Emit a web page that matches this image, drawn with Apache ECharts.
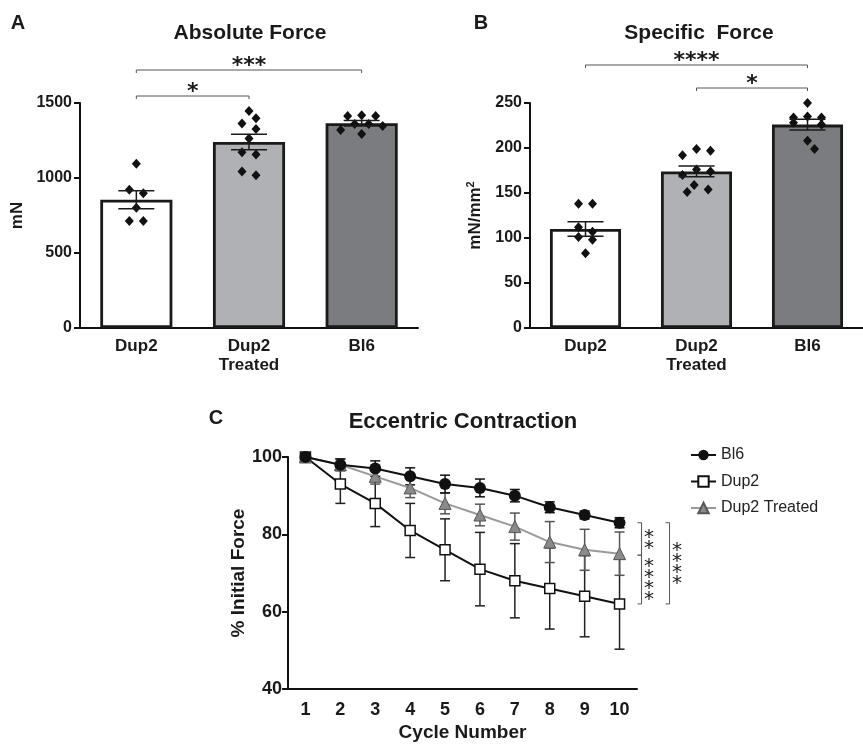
<!DOCTYPE html>
<html>
<head>
<meta charset="utf-8">
<title>Force</title>
<style>
    html, body { margin: 0; padding: 0; background: #fff; }
    #chart { width: 863px; height: 745px; }
</style>
</head>
<body>
<div id="chart"></div>
<script src="https://cdn.jsdelivr.net/npm/echarts@6/dist/echarts.min.js"></script>
<script>
// groups on the bar panels
var GROUPS = ['Dup2', 'Dup2\nTreated', 'Bl6'];

// A: absolute force (mN)
var ABS_DUP2 = [1095, 922, 898, 802, 713, 713];
var ABS_TREATED = [1447, 1398, 1364, 1327, 1264, 1171, 1156, 1044, 1018];
var ABS_BL6 = [1418, 1413, 1413, 1360, 1360, 1347, 1320, 1293];
var ABS_MEAN = [855, 1240, 1365];
var ABS_SEM = [60, 51, 18];
var ABS_TICKS = [0, 1500, 500];

// B: specific force (mN/mm2)
var SPEC_DUP2 = [138, 138, 112, 107, 101, 98, 83];
var SPEC_TREATED = [199, 197, 192, 176, 174, 170, 159, 154, 151];
var SPEC_BL6 = [250, 235, 234, 234, 228, 226, 208, 199];
var SPEC_MEAN = [110, 174, 226];
var SPEC_SEM = [8, 6, 6];
var SPEC_TICKS = [0, 250, 50];

// C: eccentric contraction, % initial force
var CYCLES = ['1', '2', '3', '4', '5', '6', '7', '8', '9', '10'];
var BL6 = [100, 98, 97, 95, 93, 92, 90, 87, 85, 83];
var BL6_SEM = [0.5, 1.5, 2, 2.2, 2.3, 2.3, 1.6, 1.4, 1, 1.3];
var DUP2 = [100, 93, 88, 81, 76, 71, 68, 66, 64, 62];
var DUP2_SEM = [0.5, 5, 6, 7, 8, 9.5, 9.6, 10.5, 10.5, 11.7];
var TREATED = [100, 98, 95, 92, 88, 85, 82, 78, 76, 75];
var TREATED_SEM = [0.5, 1.5, 2, 2.5, 2.7, 2.8, 3.5, 5.3, 5.3, 5.6];
var CYCLE_TICKS = [40, 100, 20];

// significance marks
var SIG_ABS = [[0, 1, '*'], [0, 2, '***']];
var SIG_SPEC = [[1, 2, '*'], [0, 2, '****']];
var SIG_CYCLE = [['Bl6', 'Dup2 Treated', '**'], ['Dup2 Treated', 'Dup2', '****'], ['Bl6', 'Dup2', '****']];

// layout
var FONT = '"Liberation Sans", Arial, Helvetica, sans-serif';
var STAR_FONT = '"DejaVu Sans", sans-serif';
var INK = '#1a1a1a';
var BAR_COLORS = ['#ffffff', '#b0b1b5', '#7b7c80'];
var LIFT_ABS = [7, 33];
var LIFT_SPEC = [15, 38];
var CYCLE_BRACKET_X = [22, 22, 50];
var GRID_A = { left: 80, top: 103, width: 338, height: 225 };
var GRID_B = { left: 530, top: 103, width: 337, height: 225 };
var GRID_C = { left: 288, top: 457, width: 349, height: 232 };

var chart = echarts.init(document.getElementById('chart'));

// spread dots sideways so they do not sit on each other
function swarm(values, pxPerUnit) {
    var step = 7, minDist = 10;
    var cands = [0, 1, -1, 2, -2, 3, -3];
    var placed = [];
    values.forEach(function (v) {
        var dx = 0;
        for (var i = 0; i < cands.length; i++) {
            dx = cands[i] * step;
            var ok = placed.every(function (p) {
                var ddx = p.dx - dx, ddy = (p.v - v) * pxPerUnit;
                return ddx * ddx + ddy * ddy >= minDist * minDist;
            });
            if (ok) break;
        }
        placed.push({ v: v, dx: dx });
    });
    // centre rows of nearly equal values
    var row = [placed[0]];
    function flush() {
        if (row.length > 1) {
            var m = row.reduce(function (s, p) { return s + p.dx; }, 0) / row.length;
            row.forEach(function (p) { p.dx -= m; });
        }
    }
    for (var j = 1; j < placed.length; j++) {
        if (Math.abs(placed[j - 1].v - placed[j].v) * pxPerUnit < 5) {
            row.push(placed[j]);
        } else {
            flush();
            row = [placed[j]];
        }
    }
    flush();
    return placed.map(function (p) { return p.dx; });
}

function dots(groups, ticks, grid) {
    var k = grid.height / (ticks[1] - ticks[0]);
    var out = [];
    groups.forEach(function (vals, gi) {
        var offs = swarm(vals, k);
        vals.forEach(function (v, i) {
            out.push({ value: [gi, v], symbolOffset: [offs[i], 0] });
        });
    });
    return out;
}

function errorBars(capHalf, color, width) {
    return function (params, api) {
        var x = api.value(0), m = api.value(1), e = api.value(2);
        var hi = api.coord([x, m + e]), lo = api.coord([x, m - e]);
        var st = { stroke: color, lineWidth: width };
        return {
            type: 'group', children: [
                { type: 'line', shape: { x1: hi[0], y1: hi[1], x2: lo[0], y2: lo[1] }, style: st },
                { type: 'line', shape: { x1: hi[0] - capHalf, y1: hi[1], x2: hi[0] + capHalf, y2: hi[1] }, style: st },
                { type: 'line', shape: { x1: lo[0] - capHalf, y1: lo[1], x2: lo[0] + capHalf, y2: lo[1] }, style: st }
            ]
        };
    };
}

function topBrackets(sig, lifts) {
    return function (params, api) {
        var s = sig[params.dataIndex];
        var a = api.coord([s[0], 0])[0], b = api.coord([s[1], 0])[0];
        var y = params.coordSys.y - lifts[params.dataIndex];
        var st = { stroke: '#555', lineWidth: 1 };
        return {
            type: 'group', children: [
                { type: 'line', shape: { x1: a, y1: y, x2: b, y2: y }, style: st },
                { type: 'line', shape: { x1: a, y1: y, x2: a, y2: y + 3 }, style: st },
                { type: 'line', shape: { x1: b, y1: y, x2: b, y2: y + 3 }, style: st },
                { type: 'text', x: (a + b) / 2, y: y - 4, style: {
                    text: s[2], fill: INK, font: 'bold 22px ' + STAR_FONT,
                    align: 'center', verticalAlign: 'middle' } }
            ]
        };
    };
}

var last = { 'Bl6': BL6[9], 'Dup2': DUP2[9], 'Dup2 Treated': TREATED[9] };
function sideBrackets(params, api) {
    var s = SIG_CYCLE[params.dataIndex];
    var p1 = api.coord([9, last[s[0]]]), p2 = api.coord([9, last[s[1]]]);
    var y1 = Math.min(p1[1], p2[1]), y2 = Math.max(p1[1], p2[1]);
    if (CYCLE_BRACKET_X[params.dataIndex] < 30) {
        if (s[0] === 'Dup2 Treated') y1 += 1.5; else y2 += 1.5;
    }
    var x = p1[0] + CYCLE_BRACKET_X[params.dataIndex];
    var st = { stroke: '#555', lineWidth: 1 };
    var stars = s[2].split('').join('\n');
    return {
        type: 'group', children: [
            { type: 'line', shape: { x1: x, y1: y1, x2: x, y2: y2 }, style: st },
            { type: 'line', shape: { x1: x - 4, y1: y1, x2: x, y2: y1 }, style: st },
            { type: 'line', shape: { x1: x - 4, y1: y2, x2: x, y2: y2 }, style: st },
            { type: 'text', x: x + 7.5, y: (y1 + y2) / 2 + 4, style: {
                text: stars, fill: INK, font: '20px ' + STAR_FONT, lineHeight: 11,
                align: 'center', verticalAlign: 'middle' } }
        ]
    };
}

function catAxis(gi, data, fontSize, margin) {
    return {
        gridIndex: gi, type: 'category', data: data, boundaryGap: true,
        axisLine: { lineStyle: { color: '#111', width: 2 } },
        axisTick: { alignWithLabel: true, length: 6, lineStyle: { color: '#111', width: 2 } },
        axisLabel: { color: INK, fontFamily: FONT, fontWeight: 'bold', fontSize: fontSize,
            lineHeight: fontSize + 2, margin: margin, interval: 0 }
    };
}

function valAxis(gi, ticks, name, gap, fontSize, margin) {
    return {
        gridIndex: gi, type: 'value', min: ticks[0], max: ticks[1], interval: ticks[2],
        splitLine: { show: false },
        axisLine: { show: true, lineStyle: { color: '#111', width: 2 } },
        axisTick: { show: true, length: 6, lineStyle: { color: '#111', width: 2 } },
        axisLabel: { color: INK, fontFamily: FONT, fontWeight: 'bold', fontSize: fontSize, margin: margin,
            formatter: function (v) { return String(v); } },
        name: name, nameLocation: 'middle', nameGap: gap,
        nameTextStyle: { color: INK, fontFamily: FONT, fontWeight: 'bold', fontSize: fontSize + 1,
            rich: { sup: { fontSize: 11, fontWeight: 'bold', fontFamily: FONT, color: INK, verticalAlign: 'top', padding: [0, 0, 10, 0] } } }
    };
}

function barSeries(gi, means) {
    return {
        type: 'bar', xAxisIndex: gi, yAxisIndex: gi, barWidth: '64%', silent: true,
        data: means.map(function (m, i) {
            return { value: m, itemStyle: { color: BAR_COLORS[i] } };
        }),
        itemStyle: { borderColor: '#1a1a1a', borderWidth: 2.8 }
    };
}

function dotSeries(gi, groups, ticks, grid) {
    return {
        type: 'scatter', xAxisIndex: gi, yAxisIndex: gi, symbol: 'diamond', symbolSize: [9, 10],
        itemStyle: { color: '#111', opacity: 1 }, silent: true, z: 3,
        data: dots(groups, ticks, grid)
    };
}

function errSeries(gi, means, sems, cap, color, width, z) {
    return {
        type: 'custom', xAxisIndex: gi, yAxisIndex: gi, silent: true, clip: false, z: z,
        renderItem: errorBars(cap, color, width),
        encode: { x: 0, y: 1 },
        data: means.map(function (m, i) { return [i, m, sems[i]]; })
    };
}

function lineSeries(name, data, symbol, size, itemStyle, lineColor) {
    return {
        name: name, type: 'line', xAxisIndex: 2, yAxisIndex: 2, data: data,
        symbol: symbol, symbolSize: size, clip: false, z: 5,
        itemStyle: itemStyle, lineStyle: { color: lineColor, width: 2 },
        emphasis: { disabled: true }
    };
}

function label(text, x, y, size) {
    return { type: 'text', x: x, y: y, style: {
        text: text, fill: INK, font: 'bold ' + size + 'px ' + FONT,
        align: 'center', verticalAlign: 'middle' } };
}

var option = {
    animation: false,
    backgroundColor: '#fff',
    grid: [GRID_A, GRID_B, GRID_C],
    xAxis: [
        catAxis(0, GROUPS, 17, 9),
        catAxis(1, GROUPS, 17, 9),
        Object.assign(catAxis(2, CYCLES, 18, 11), {
            name: 'Cycle Number', nameLocation: 'middle', nameGap: 34,
            nameTextStyle: { color: INK, fontFamily: FONT, fontWeight: 'bold', fontSize: 19 }
        })
    ],
    yAxis: [
        valAxis(0, ABS_TICKS, 'mN', 54, 16, 8),
        valAxis(1, SPEC_TICKS, 'mN/mm{sup|2}', 44, 16, 8),
        valAxis(2, CYCLE_TICKS, '% Initial Force', 38, 18, 6)
    ],
    legend: {
        orient: 'vertical', left: 685, top: 442, itemWidth: 25, itemHeight: 13, itemGap: 10.5,
        data: ['Bl6', 'Dup2', 'Dup2 Treated'],
        textStyle: { color: '#222', fontFamily: FONT, fontSize: 16 },
        selectedMode: false
    },
    graphic: [
        label('A', 18, 23, 20),
        label('B', 481, 23, 20),
        label('C', 216, 418, 20),
        label('Absolute Force', 250, 33, 21),
        label('Specific  Force', 699, 33, 21),
        label('Eccentric Contraction', 463, 422, 22)
    ],
    series: [
        barSeries(0, ABS_MEAN),
        dotSeries(0, [ABS_DUP2, ABS_TREATED, ABS_BL6], ABS_TICKS, GRID_A),
        errSeries(0, ABS_MEAN, ABS_SEM, 18, '#1a1a1a', 1.5, 4),
        { type: 'custom', xAxisIndex: 0, yAxisIndex: 0, silent: true, clip: false,
          renderItem: topBrackets(SIG_ABS, LIFT_ABS), data: SIG_ABS.map(function (s) { return [s[0], 0]; }) },

        barSeries(1, SPEC_MEAN),
        dotSeries(1, [SPEC_DUP2, SPEC_TREATED, SPEC_BL6], SPEC_TICKS, GRID_B),
        errSeries(1, SPEC_MEAN, SPEC_SEM, 18, '#1a1a1a', 1.5, 4),
        { type: 'custom', xAxisIndex: 1, yAxisIndex: 1, silent: true, clip: false,
          renderItem: topBrackets(SIG_SPEC, LIFT_SPEC), data: SIG_SPEC.map(function (s) { return [s[0], 0]; }) },

        errSeries(2, DUP2, DUP2_SEM, 5, '#222', 1.5, 2),
        errSeries(2, TREATED, TREATED_SEM, 5, '#555', 1.5, 2),
        errSeries(2, BL6, BL6_SEM, 5, '#111', 1.5, 2),
        lineSeries('Dup2', DUP2, 'rect', 10, { color: '#fff', borderColor: '#111', borderWidth: 1.5 }, '#111'),
        lineSeries('Dup2 Treated', TREATED, 'triangle', 12, { color: '#8a8a8a', borderColor: '#555', borderWidth: 1 }, '#9a9a9a'),
        lineSeries('Bl6', BL6, 'circle', 12, { color: '#111' }, '#111'),
        { type: 'custom', xAxisIndex: 2, yAxisIndex: 2, silent: true, clip: false,
          renderItem: sideBrackets, data: SIG_CYCLE.map(function (s, i) { return [i, 50]; }) }
    ]
};

chart.setOption(option);
</script>
</body>
</html>
